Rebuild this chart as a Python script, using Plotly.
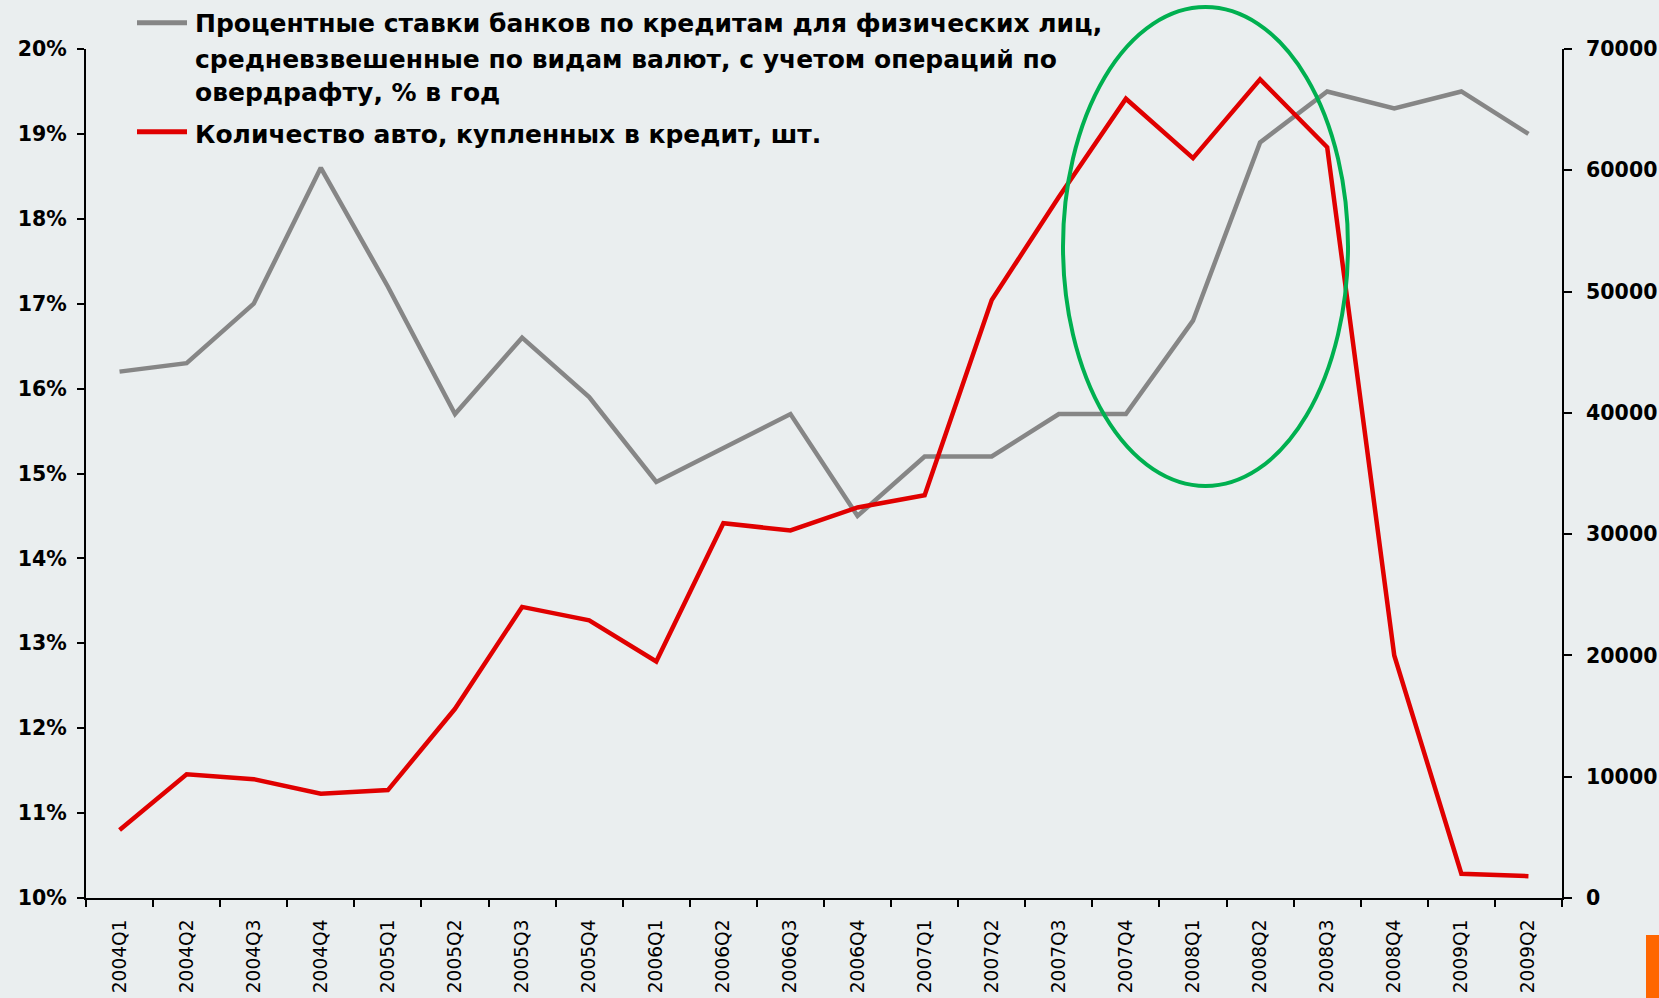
import plotly.graph_objects as go

quarters = ["2004Q1", "2004Q2", "2004Q3", "2004Q4",
            "2005Q1", "2005Q2", "2005Q3", "2005Q4",
            "2006Q1", "2006Q2", "2006Q3", "2006Q4",
            "2007Q1", "2007Q2", "2007Q3", "2007Q4",
            "2008Q1", "2008Q2", "2008Q3", "2008Q4",
            "2009Q1", "2009Q2"]

rate_pct = [16.2, 16.3, 17.0, 18.6,
            17.2, 15.7, 16.6, 15.9,
            14.9, 15.3, 15.7, 14.5,
            15.2, 15.2, 15.7, 15.7,
            16.8, 18.9, 19.5, 19.3,
            19.5, 19.0]

cars_credit = [5600, 10200, 9800, 8600,
               8900, 15600, 24000, 22900,
               19500, 30900, 30300, 32200,
               33200, 49300, 57800, 65900,
               61000, 67500, 61900, 20000,
               2000, 1800]

name_rate_lines = ["Процентные ставки банков по кредитам для физических лиц,",
                   "средневзвешенные по видам валют, с учетом операций по",
                   "овердрафту, % в год"]
name_cars = "Количество авто, купленных в кредит, шт."

BG = "#EAEEEF"
GREY = "#868686"
RED = "#E00000"
GREEN = "#00B050"

fig = go.Figure()
fig.add_trace(go.Scatter(x=quarters, y=rate_pct, mode="lines", name=" ".join(name_rate_lines),
                         line=dict(color=GREY, width=4.5), yaxis="y", showlegend=False))
fig.add_trace(go.Scatter(x=quarters, y=cars_credit, mode="lines", name=name_cars,
                         line=dict(color=RED, width=4.5), yaxis="y2", showlegend=False))

PL, PR, PT, PB = 86, 97, 49, 100
W, H = 1659, 998
pw = W - PL - PR
ph = H - PT - PB

def px_x(x):
    return (x - PL) / pw

def px_y(y):
    return (H - PB - y) / ph

shapes = [
    # highlight ellipse
    dict(type="circle", xref="paper", yref="paper",
         x0=px_x(1063), x1=px_x(1348), y0=px_y(486), y1=px_y(7),
         line=dict(color=GREEN, width=4)),
    # legend lines
    dict(type="line", xref="paper", yref="paper",
         x0=px_x(137), x1=px_x(187), y0=px_y(22.7), y1=px_y(22.7),
         line=dict(color=GREY, width=5)),
    dict(type="line", xref="paper", yref="paper",
         x0=px_x(137), x1=px_x(187), y0=px_y(131.7), y1=px_y(131.7),
         line=dict(color=RED, width=5)),
    # orange corner mark
    dict(type="rect", xref="paper", yref="paper",
         x0=px_x(1646), x1=px_x(1662), y0=px_y(935), y1=px_y(1002),
         line=dict(width=0), fillcolor="#FF6600"),
]

legend_font = dict(family="DejaVu Sans", size=25, color="black")
legend_rows = list(zip(name_rate_lines, [23.3, 59.3, 92.0])) + [(name_cars, 134.4)]
annotations = [
    dict(xref="paper", yref="paper", x=px_x(193), y=px_y(yy),
         xanchor="left", yanchor="middle", align="left", showarrow=False,
         text="<b>" + txt + "</b>", font=legend_font)
    for txt, yy in legend_rows
]

fig.update_layout(
    width=W, height=H,
    margin=dict(l=PL, r=PR, t=PT, b=PB, pad=0, autoexpand=False),
    paper_bgcolor=BG, plot_bgcolor=BG,
    shapes=shapes, annotations=annotations,
    showlegend=False,
    xaxis=dict(type="category", range=[-0.5, len(quarters) - 0.5],
               automargin=False,
               showgrid=False, zeroline=False,
               showline=True, linecolor="black", linewidth=2,
               ticks="outside", ticklen=7, tickwidth=2, tickcolor="black",
               tickson="boundaries", tickangle=-90,
               ticklabelstandoff=12,
               tickfont=dict(family="DejaVu Sans", size=18.6, color="black")),
    yaxis=dict(range=[10, 20], dtick=1, ticksuffix="%",
               automargin=False,
               showgrid=False, zeroline=False,
               showline=True, linecolor="black", linewidth=2,
               ticks="outside", ticklen=7, tickwidth=2, tickcolor="black",
               ticklabelstandoff=6,
               tickfont=dict(family="DejaVu Sans", size=20.5, color="black", weight="bold")),
    yaxis2=dict(range=[0, 70000], dtick=10000, overlaying="y", side="right",
                automargin=False,
                showgrid=False, zeroline=False,
                showline=True, linecolor="black", linewidth=2,
                ticks="outside", ticklen=8, tickwidth=2, tickcolor="black",
                ticklabelstandoff=10, tickformat="d",
                tickfont=dict(family="DejaVu Sans", size=20.5, color="black", weight="bold")),
)

fig.write_html("out.html",
               config={"displayModeBar": False},
               post_script="document.body.style.margin='0px';document.body.style.overflow='hidden';document.body.style.background='" + BG + "';")
